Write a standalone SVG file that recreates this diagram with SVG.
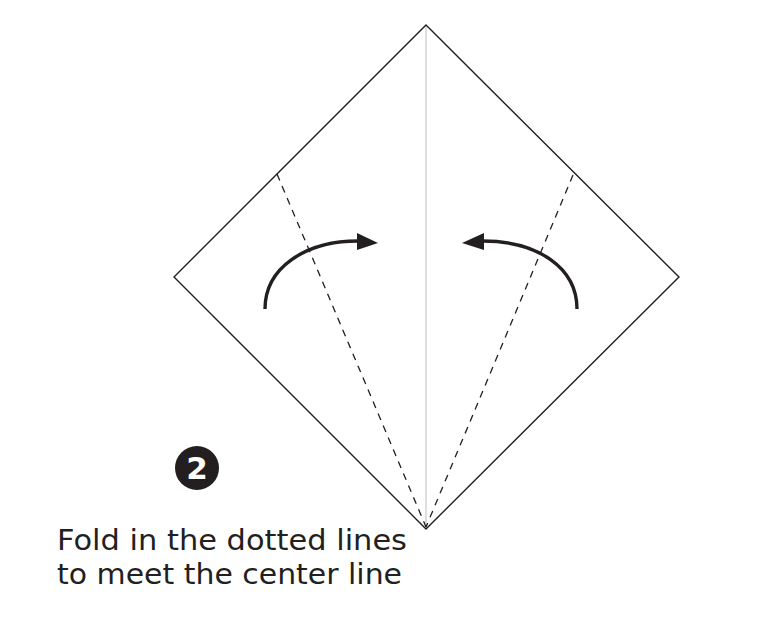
<svg xmlns="http://www.w3.org/2000/svg" width="773" height="619" viewBox="0 0 773 619">
<defs>
<style>
.edge{fill:none;stroke:#231f20;stroke-width:1.4}
.center{fill:none;stroke:#c8c8c8;stroke-width:1.2}
.dash{fill:none;stroke:#231f20;stroke-width:1.3;stroke-dasharray:7 6}
.arc{fill:none;stroke:#231f20;stroke-width:3.4}
.head{fill:#231f20}
.label{font-family:"DejaVu Sans","Liberation Sans",sans-serif;font-size:29px;fill:#231f20}
.num{font-family:"DejaVu Sans","Liberation Sans",sans-serif;font-size:31px;font-weight:bold;fill:#ffffff}
</style>
</defs>
<rect width="773" height="619" fill="#ffffff"/>
<g id="paper">
<line class="center" x1="426" y1="25" x2="426" y2="529"/>
<polygon class="edge" points="426,25 679,277 426,529 174,277"/>
</g>
<g id="connectors">
<line class="dash" x1="277" y1="174" x2="426" y2="527"/>
<line class="dash" x1="573" y1="175" x2="426" y2="527"/>
<path class="arc" d="M265,309 C265,268 305,241 358,241"/>
<polygon class="head" points="357,233 378,243 357,250"/>
<path class="arc" d="M577,309 C577,268 538,241 483,241"/>
<polygon class="head" points="484,233 462,243 484,250"/>
</g>
<g id="step-number">
<circle cx="197" cy="468" r="22" fill="#231f20"/>
<text class="num" x="197" y="479" text-anchor="middle">2</text>
</g>
<g id="caption">
<text class="label" x="57" y="550" textLength="350" lengthAdjust="spacingAndGlyphs">Fold in the dotted lines</text>
<text class="label" x="57" y="584" textLength="345" lengthAdjust="spacingAndGlyphs">to meet the center line</text>
</g>
</svg>
